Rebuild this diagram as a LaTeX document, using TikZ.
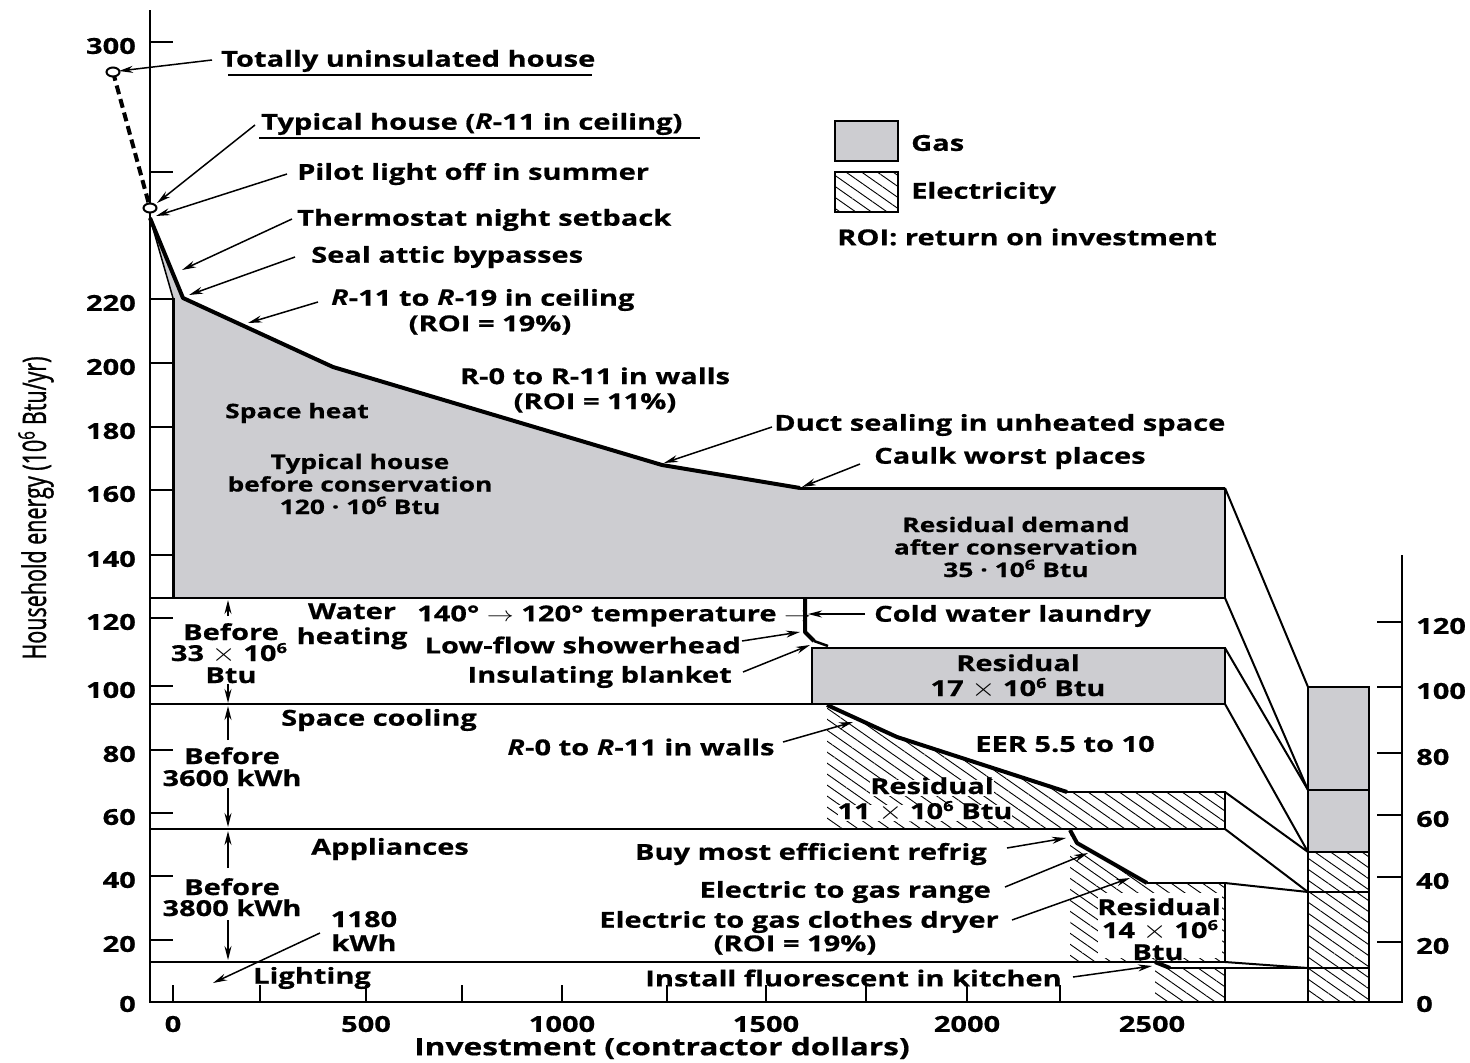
\documentclass[tikz,border=0pt]{standalone}
\usepackage{fontspec}
\usepackage{graphicx}
\setmainfont{Open Sans}[FakeStretch=1.32, BoldFeatures={FakeBold=0.6}]
\newfontfamily\axisfont{Open Sans}[FakeBold=1.3]
\usetikzlibrary{arrows.meta,patterns.meta,shapes.geometric}
\definecolor{gasgray}{RGB}{205,205,209}
\newcommand\sixp{\raisebox{0.36em}{\fontsize{14}{14}\selectfont 6}}
\newcommand\tms{\scalebox{1.5}[1.25]{$\times$}}
\newcommand\rarr{\scalebox{1.3}[1]{$\rightarrow$}}
\begin{document}
\begin{tikzpicture}[x=1pt,y=-1pt,
  lab/.style={font=\fontsize{22}{22}\selectfont\bfseries, inner sep=1pt, align=center, yshift=-2pt},
  small/.style={font=\fontsize{20}{22.5}\selectfont\bfseries},
  tight/.style={text height=14pt, text depth=2pt, inner sep=0pt, yshift=-1pt},
  curve/.style={line width=4pt, line join=round},
  band/.style={line width=2pt},
  blk/.style={line width=2.5pt},
  ptr/.style={line width=1.5pt, -{Stealth[length=14pt,width=7pt]}},
  hatch/.style={pattern={Lines[angle=-35,distance=9pt,line width=0.9pt]}},
  tick/.style={line width=1.8pt},
]
\useasboundingbox (0,0) rectangle (1470,1063);
\fill[white] (0,0) rectangle (1470,1063);

% ---------- space heat (gas) ----------
\fill[gasgray] (150,218) -- (183,298) -- (333,367) -- (662,465) -- (800,488) -- (1225,488)
  -- (1225,598) -- (173,598) -- (173,298) -- cycle;
\draw[line width=1.5pt] (150,218) -- (173,298);
\draw[line width=3pt] (173,298) -- (173,598);
\draw[curve] (150,218) -- (183,298) -- (333,367) -- (662,465) -- (800,488);
\draw[line width=3pt] (800,488) -- (1225,488);
\draw[blk] (1225,488) -- (1225,598);

% bands
\draw[band] (150,598) -- (1225,598);
\draw[band] (150,704) -- (1225,704);
\draw[band] (150,829) -- (1225,829);
\draw[band] (150,962) -- (1225,962);

% water heating
\draw[curve] (805,598) -- (805,632) -- (814,641);
\draw[blk] (814,641) -- (828,646);
\draw[blk, fill=gasgray] (812,648) rectangle (1225,704);

% space cooling
\fill[hatch] (827,705) -- (897,737) -- (1067,792) -- (1225,792) -- (1225,829) -- (827,829) -- cycle;
\draw[curve] (827,705) -- (897,737) -- (1067,792);
\draw[blk] (1067,792) -- (1225,792) -- (1225,829);

% appliances
\fill[hatch] (1070,830) -- (1077,843) -- (1147,883) -- (1225,883) -- (1225,962) -- (1070,962) -- cycle;
\draw[curve] (1070,830) -- (1077,843) -- (1147,883);
\draw[blk] (1147,883) -- (1225,883) -- (1225,962);

% lighting
\fill[hatch] (1155,962) -- (1170,968) -- (1225,968) -- (1225,1002) -- (1155,1002) -- cycle;
\draw[curve] (1155,962) -- (1170,968);
\draw[blk] (1170,968) -- (1225,968) -- (1225,1002);

% right bar
\fill[gasgray] (1308,687) rectangle (1369,852);
\fill[hatch] (1308,852) rectangle (1369,1002);
\draw[band] (1308,687) rectangle (1369,1002);
\draw[band] (1308,790) -- (1369,790);
\draw[band] (1308,852) -- (1369,852);
\draw[band] (1308,892) -- (1369,892);
\draw[band] (1308,968) -- (1369,968);

% connectors to right bar
\draw[band] (1225,488) -- (1308,687);
\draw[band] (1225,598) -- (1308,790);
\draw[band] (1225,648) -- (1308,790);
\draw[band] (1225,704) -- (1308,852);
\draw[band] (1225,792) -- (1308,852);
\draw[band] (1225,829) -- (1308,892);
\draw[band] (1225,883) -- (1308,892);
\draw[band] (1225,962) -- (1308,968);
\draw[band] (1225,968) -- (1308,968);

% ---------- axes ----------
\draw[line width=2pt] (150,10) -- (150,1002) -- (1402,1002) -- (1402,555);
\foreach \yy in {42,172,299,363,427,490,555,618,686,750,813,876,940}
  \draw[tick] (150,\yy) -- (173,\yy);
\foreach \xx in {173,260,366,462,562,667,766,866,967,1060}
  \draw[tick] (\xx,1002) -- (\xx,985);
\foreach \yy in {622,687,753,815,877,942}
  \draw[tick] (1377,\yy) -- (1402,\yy);
\foreach \v/\yy in {300/44,220/301,200/365,180/429,160/492,140/557,120/620,100/688,80/752,60/815,40/878,20/942,0/1002}
  \node[lab, anchor=east] (yl\v) at (137,\yy) {\v};
\foreach \v/\yy in {120/624,100/689,80/755,60/817,40/879,20/944,0/1002}
  \node[lab, anchor=west] (ry\v) at (1415,\yy) {\v};
\foreach \v/\xx in {0/173,500/366,1000/562,1500/766,2000/967,2500/1152}
  \node[lab] (xl\v) at (\xx,1022) {\v};
\node[lab, font=\fontsize{24}{24}\selectfont\bfseries] (xtitle) at (662,1046) {Investment (contractor dollars)};
\node[rotate=90, inner sep=0pt] (ytitle) at (36,508)
  {\scalebox{1}[1.5]{\axisfont\fontsize{21.5}{21.5}\selectfont Household energy (10\textsuperscript{6} Btu/yr)}};

% ---------- top annotations ----------
\draw[line width=4pt, dash pattern=on 9pt off 5pt] (113,72) -- (150,208);
\node[draw, line width=2pt, fill=white, ellipse, minimum width=13pt, minimum height=9pt, inner sep=0pt] (c1) at (113,72) {};
\node[draw, line width=2pt, fill=white, ellipse, minimum width=13pt, minimum height=9pt, inner sep=0pt] (c2) at (150,208) {};

\node[lab, anchor=west] (t1) at (220,59) {Totally uninsulated house};
\draw[line width=1.5pt] (228,75) -- (592,75);
\node[lab, anchor=west] (t2) at (260,122) {Typical house (\textit{R}-11 in ceiling)};
\draw[line width=1.5pt] (259,138) -- (700,138);
\node[lab, anchor=west] (t3) at (296,172) {Pilot light off in summer};
\node[lab, anchor=west] (t4) at (296,218) {Thermostat night setback};
\node[lab, anchor=west] (t5) at (310,255) {Seal attic bypasses};
\node[lab, anchor=west] (t6) at (330,298) {\textit{R}-11 to \textit{R}-19 in ceiling};
\node[lab] (t6b) at (490,323) {(ROI = 19\%)};

\coordinate (a1s) at (212,60);  \coordinate (a1e) at (119,71);
\coordinate (a2s) at (255,125); \coordinate (a2e) at (157,203);
\coordinate (a3s) at (287,174); \coordinate (a3e) at (156,216);
\coordinate (a4s) at (292,219); \coordinate (a4e) at (182,270);
\coordinate (a5s) at (295,257); \coordinate (a5e) at (189,295);
\coordinate (a6s) at (318,302); \coordinate (a6e) at (248,323);
\foreach \i in {1,...,6} \draw[ptr] (a\i s) -- (a\i e);

% legend
\draw[blk, fill=gasgray] (835,121) rectangle (898,161);
\draw[blk, hatch] (835,172) rectangle (898,212);
\node[lab, anchor=west] (lg1) at (910,141) {Gas};
\node[lab, anchor=west] (lg2) at (910,191) {Electricity};
\node[lab, anchor=west] (lg3) at (836,235) {ROI: return on investment};

% space heat labels
\node[lab, small] (sh1) at (297,411) {Space heat};
\node[lab, small] (sh2) at (360,482) {Typical house\\before conservation\\120 · 10\sixp{} Btu};
\node[lab, font=\fontsize{22}{25}\selectfont\bfseries] (sh3) at (595,388) {R-0 to R-11 in walls\\(ROI = 11\%)};
\node[lab, anchor=west] (sh4) at (773,423) {Duct sealing in unheated space};
\node[lab, anchor=west] (sh5) at (873,456) {Caulk worst places};
\node[lab, small] (sh6) at (1016,545) {Residual demand\\after conservation\\35 · 10\sixp{} Btu};
\coordinate (a7s) at (772,427); \coordinate (a7e) at (664,463);
\coordinate (a8s) at (860,464); \coordinate (a8e) at (802,487);
\draw[ptr] (a7s) -- (a7e);
\draw[ptr] (a8s) -- (a8e);

% water heating labels
\node[lab, tight] (wh1a) at (352,610) {Water};
\node[lab, tight] (wh1b) at (352,635) {heating};
\node[lab, anchor=west] (wh2) at (416,614) {140\textdegree{} \rarr{} 120\textdegree{} temperature \rarr};
\node[lab, anchor=west] (wh3) at (873,614) {Cold water laundry};
\node[lab, anchor=east] (wh4) at (742,643) {Low-flow showerhead};
\node[lab, anchor=east] (wh5) at (733,675) {Insulating blanket};
\node[lab, tight] (wh6a) at (1018,662) {Residual};
\node[lab, tight] (wh6b) at (1018,687) {17 \tms{} 10\sixp{} Btu};
\coordinate (a10s) at (865,614); \coordinate (a10e) at (808,614);
\coordinate (a11s) at (742,641); \coordinate (a11e) at (800,632);
\coordinate (a12s) at (743,672); \coordinate (a12e) at (810,645);
\draw[ptr] (a10s) -- (a10e);
\draw[ptr] (a11s) -- (a11e);
\draw[ptr] (a12s) -- (a12e);

% space cooling labels
\node[lab] (sc1) at (379,718) {Space cooling};
\node[lab] (sc2) at (641,745) {\textit{R}-0 to \textit{R}-11 in walls};
\node[lab] (sc3) at (1065,742) {EER 5.5 to 10};
\node[lab, tight, fill=white] (sc4) at (932,785) {Residual};
\node[lab, tight, fill=white] (sc5) at (925,810) {11 \tms{} 10\sixp{} Btu};
\coordinate (a13s) at (783,742); \coordinate (a13e) at (853,722);
\draw[ptr] (a13s) -- (a13e);

% appliances labels
\node[lab] (ap1) at (390,847) {Appliances};
\node[lab, anchor=east] (ap2) at (988,852) {Buy most efficient refrig};
\node[lab, anchor=east] (ap3) at (992,890) {Electric to gas range};
\node[lab, anchor=east] (ap4) at (1000,920) {Electric to gas clothes dryer};
\node[lab] (ap5) at (795,943) {(ROI = 19\%)};
\fill[white] (1098,893) rectangle (1222,958);
\node[lab, tight] (ap6a) at (1159,906) {Residual};
\node[lab, tight] (ap6b) at (1160,929) {14 \tms{} 10\sixp};
\node[lab, tight] (ap6c) at (1158,951) {Btu};
\coordinate (a14s) at (1007,848); \coordinate (a14e) at (1066,838);
\coordinate (a15s) at (1005,887); \coordinate (a15e) at (1088,853);
\coordinate (a16s) at (1012,920); \coordinate (a16e) at (1130,878);
\draw[ptr] (a14s) -- (a14e);
\draw[ptr] (a15s) -- (a15e);
\draw[ptr] (a16s) -- (a16e);

% lighting labels
\node[lab, tight] (lt1a) at (364,918) {1180};
\node[lab, tight] (lt1b) at (364,942) {kWh};
\node[lab] (lt2) at (312,976) {Lighting};
\node[lab, anchor=east] (lt3) at (1063,976) {Install fluorescent in kitchen};
\coordinate (a17s) at (1073,977); \coordinate (a17e) at (1152,966);
\coordinate (a18s) at (320,933); \coordinate (a18e) at (213,983);
\draw[ptr] (a17s) -- (a17e);
\draw[ptr] (a18s) -- (a18e);

% "before" labels with vertical arrows
\node[lab, tight] (bf1a) at (231,631) {Before};
\node[lab, tight] (bf1b) at (229,652) {33 \tms{} 10\sixp};
\node[lab, tight] (bf1c) at (231,674) {Btu};
\node[lab, tight] (bf2a) at (232,755) {Before};
\node[lab, tight] (bf2b) at (232,777) {3600 kWh};
\node[lab, tight] (bf3a) at (232,886) {Before};
\node[lab, tight] (bf3b) at (232,907) {3800 kWh};
\coordinate (v1s) at (228,616); \coordinate (v1e) at (228,600);
\coordinate (v2s) at (228,684); \coordinate (v2e) at (228,703);
\coordinate (v3s) at (228,740); \coordinate (v3e) at (228,706);
\coordinate (v4s) at (228,788); \coordinate (v4e) at (228,827);
\coordinate (v5s) at (228,868); \coordinate (v5e) at (228,831);
\coordinate (v6s) at (228,920); \coordinate (v6e) at (228,960);
\foreach \i in {1,...,6} \draw[ptr] (v\i s) -- (v\i e);
\end{tikzpicture}
\end{document}
